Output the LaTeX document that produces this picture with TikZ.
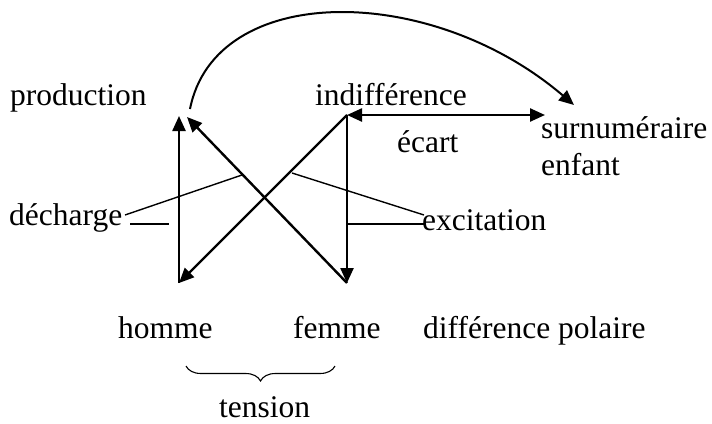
\documentclass[tikz,border=0pt]{standalone}
\usepackage{fontspec}
\setmainfont{Liberation Serif}
\usetikzlibrary{arrows.meta,decorations.pathreplacing}
\begin{document}
\begin{tikzpicture}[x=1pt,y=-1pt,
  lbl/.style={inner sep=0pt,anchor=base west,font=\fontsize{31.5}{38}\selectfont},
  arr/.style={line width=2.4pt,-{Triangle[length=15pt,width=13pt]}},
  thin/.style={line width=1.4pt}]
\useasboundingbox[fill=white] (0,0) rectangle (712,423);
\coordinate (A) at (179,116);
\coordinate (B) at (179,283);
\coordinate (C) at (347,115);
\coordinate (D) at (347,283);
\coordinate (Dtip) at (187,117);
\coordinate (Ctip) at (545,115);
\coordinate (Cs) at (190,109);
\coordinate (Ce) at (574,105);
\node[lbl] (prod) at (10,105) {production};
\node[lbl] (indif) at (315,105) {indifférence};
\node[lbl] (ecart) at (397,152) {écart};
\node[lbl] (surn) at (541,138) {surnuméraire};
\node[lbl] (enf) at (541,175) {enfant};
\node[lbl] (exc) at (422,230) {excitation};
\node[lbl] (dech) at (9,225) {décharge};
\node[lbl] (hom) at (118,338) {homme};
\node[lbl] (fem) at (293,338) {femme};
\node[lbl] (dpol) at (423,338) {différence polaire};
\node[lbl] (ten) at (219,417) {tension};
% arrows
\draw[arr] (B) -- (A);
\draw[arr] (C) -- (D);
\draw[arr] (C) -- (B);
\draw[arr] (D) -- (Dtip);
\draw[line width=2.4pt,{Triangle[length=15pt,width=13pt]}-{Triangle[length=15pt,width=13pt]}] (C) -- (Ctip);
\draw[line width=2pt,-{Triangle[length=15pt,width=13pt]}] (Cs) .. controls (215,-18) and (430,-18) .. (Ce);
% label lines
\coordinate (d1) at (125,215);
\coordinate (d2) at (242,175);
\coordinate (d3) at (130,224);
\coordinate (d4) at (169,224);
\coordinate (e1) at (292,173);
\coordinate (e2) at (424,215);
\coordinate (e3) at (347,224);
\coordinate (e4) at (424,224);
\draw[thin] (d1) -- (d2);
\draw[thin] (d3) -- (d4);
\draw[thin] (e1) -- (e2);
\draw[thin] (e3) -- (e4);
% brace
\coordinate (b1) at (186,366);
\coordinate (b2) at (335,366);
\draw[line width=1.1pt,decorate,decoration={brace,mirror,amplitude=15pt}] (b1) -- (b2);
\end{tikzpicture}
\end{document}
